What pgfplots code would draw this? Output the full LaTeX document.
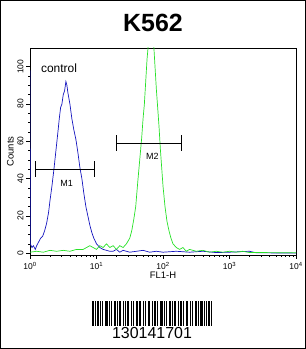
\documentclass[border=0pt]{standalone}
\usepackage{pgfplots}
\pgfplotsset{compat=1.18}
\usepackage{pgfplotstable}
\usepackage{fontspec}
\setmainfont{Liberation Sans}
\definecolor{ctrlblue}{RGB}{20,20,190}
\definecolor{samplegreen}{RGB}{40,225,40}

\pgfplotstableread{
lx y
0.00 98
0.005 5
0.03 3
0.05 4
0.08 2
0.10 4
0.13 6
0.16 8
0.19 9
0.22 12
0.25 16
0.28 22
0.30 28
0.33 36
0.36 45
0.39 55
0.42 65
0.44 72
0.46 78
0.48 80
0.50 85
0.52 87
0.54 92
0.555 90
0.57 86
0.60 80
0.63 72
0.66 66
0.69 61
0.72 54
0.75 46
0.78 40
0.81 32
0.84 25
0.87 20
0.90 15
0.93 11
0.96 8
1.00 5
1.05 3
1.10 2
1.15 1.5
1.20 1
1.25 1
1.30 2
1.35 0.5
1.40 1.5
1.50 0.5
1.60 1
1.70 1.5
1.80 0.5
1.90 1
2.00 0.5
2.20 1
2.40 0.5
2.60 1
2.80 0.3
3.00 0.5
3.30 1
3.40 0.2
4.00 0
}\controldata

\pgfplotstableread{
lx y
0.00 0.5
0.10 1
0.20 0.5
0.30 1.5
0.40 1
0.50 1.5
0.60 1
0.70 2
0.80 2
0.85 3
0.90 4
0.95 3
1.00 2
1.05 4
1.10 3
1.15 5
1.20 3
1.25 4
1.30 2
1.35 4
1.40 3
1.45 5
1.50 8
1.53 12
1.56 18
1.59 25
1.62 38
1.65 50
1.68 62
1.70 72
1.72 80
1.74 92
1.76 104
1.78 112
1.80 116
1.82 118
1.84 116
1.86 112
1.88 100
1.90 88
1.92 78
1.94 68
1.96 56
1.98 46
2.00 36
2.03 25
2.06 17
2.09 12
2.12 8
2.15 5
2.20 3
2.25 2
2.30 3
2.35 1
2.40 2
2.50 1
2.60 1.5
2.70 0.5
2.80 1
2.90 0.5
3.00 1
3.10 0.5
3.20 1
3.30 0.3
3.50 0.3
4.00 0.2
}\sampledata

\begin{document}
\begin{tikzpicture}
\useasboundingbox (0,0) rectangle (306bp,349bp);
\draw[line width=1bp] (0.5bp,0.5bp) rectangle (305.5bp,348.5bp);
\node[font=\fontsize{25}{30}\selectfont\bfseries] at (153bp,326bp) {K562};
\begin{axis}[
  at={(30bp,94bp)}, anchor=south west,
  scale only axis, width=266bp, height=207bp,
  xmode=log, xmin=1, xmax=10000,
  ymin=-1, ymax=110,
  axis line style={line width=0.8bp},
  tick align=outside,
  xtick pos=bottom, ytick pos=left,
  xtick={1,10,100,1000,10000},
  xticklabels={10\textsuperscript{0},10\textsuperscript{1},10\textsuperscript{2},10\textsuperscript{3},10\textsuperscript{4}},
  ytick={0,20,40,60,80,100},
  minor y tick num=3,
  major tick length=4bp, minor tick length=2bp,
  tick style={black, line width=0.6bp},
  /pgf/number format/assume math mode=true,
  tick label style={font=\fontsize{8.5}{9}\selectfont},
  yticklabel style={rotate=90, anchor=south, yshift=-1bp},
  xlabel={FL1-H}, ylabel={Counts},
  label style={font=\fontsize{9.5}{11}\selectfont},
  xlabel style={yshift=4bp},
  ylabel style={yshift=-3bp},
  clip=true,
]
\addplot[ctrlblue, line width=0.7bp] table[x expr={10^\thisrow{lx}}, y=y] {\controldata};
\addplot[samplegreen, line width=0.7bp] table[x expr={10^\thisrow{lx}}, y=y] {\sampledata};
\addplot[black, line width=0.6bp, mark=|, mark size=8bp, mark options={line width=0.6bp}] coordinates {(1.19,45) (9.33,45)};
\addplot[black, line width=0.6bp, mark=|, mark size=8bp, mark options={line width=0.6bp}] coordinates {(20,59) (190.5,59)};
\node[font=\fontsize{9}{10}\selectfont] at (axis cs:3.55,37.5) {M1};
\node[font=\fontsize{9}{10}\selectfont] at (axis cs:69,52) {M2};
\node[font=\fontsize{12}{14}\selectfont, anchor=west] at (axis cs:1.3,99) {control};
\end{axis}
\foreach \x/\w in {92/1.5,95/1,97/2,100/1,102/1,105/2.5,109/1,111/1,114/1.5,117/1,119/2,123/1,125/1,127/2,131/1,133/1,136/1.5,139/2,143/1,145/1,148/2,152/1,154/1.5,157/1,160/2.5,164/1,166/1,169/1.5,172/1,174/2,178/1,180/1.5,183/1,186/2,190/1,192/1,195/1.5,198/1,200/2.5,204/1,206/1,208/1.5,211/1}
  \fill[black] ({\x*1bp},23bp) rectangle ({(\x+\w)*1bp},48bp);
\node[font=\fontsize{16}{18}\selectfont] at (152bp,16bp) {130141701};
\end{tikzpicture}
\end{document}
